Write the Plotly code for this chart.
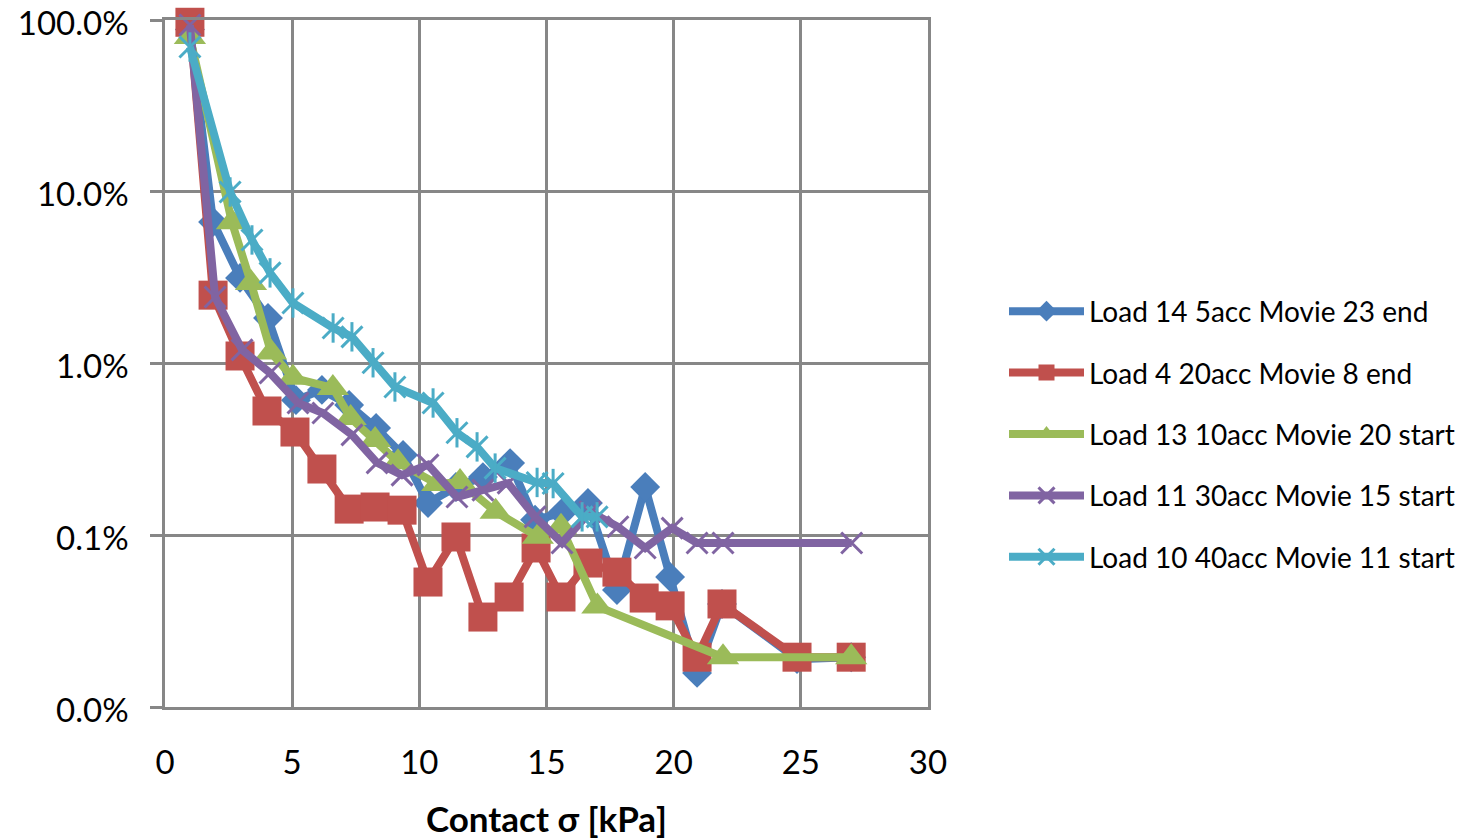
import plotly.graph_objects as go

# ---- data (x = contact stress kPa, y = fraction) ----
blue_x = [0.98, 1.89, 2.95, 4.05, 5.15, 6.17, 7.24, 8.30, 9.36, 10.34, 11.44, 12.50, 13.57, 14.55, 15.61, 16.63, 17.77, 18.88, 19.86, 20.92, 21.90, 24.85, 26.98]
blue_y = [0.88, 0.0667, 0.0315, 0.0184, 0.00612, 0.00702, 0.00573, 0.00421, 0.00293, 0.00154, 0.00191, 0.00218, 0.00263, 0.00123, 0.00135, 0.00154, 0.000480, 0.00191, 0.000571, 0.000158, 0.000398, 0.000190, 0.000195]

red_x = [0.98, 1.89, 2.95, 4.01, 5.11, 6.17, 7.24, 8.26, 9.32, 10.34, 11.44, 12.50, 13.53, 14.59, 15.57, 16.63, 17.77, 18.84, 19.86, 20.92, 21.90, 24.85, 26.98]
red_y = [0.97, 0.0250, 0.01106, 0.00529, 0.00399, 0.00243, 0.00142, 0.00146, 0.00140, 0.000534, 0.000977, 0.000334, 0.000437, 0.000843, 0.000437, 0.000689, 0.000610, 0.000431, 0.000388, 0.000195, 0.000398, 0.000195, 0.000195]

green_x = [0.98, 2.63, 3.38, 4.17, 5.03, 6.60, 7.30, 8.26, 9.16, 10.70, 11.60, 13.00, 14.66, 15.57, 17.00, 21.94, 26.98]
green_y = [0.796, 0.0665, 0.0294, 0.0116, 0.00825, 0.00721, 0.00481, 0.00358, 0.00266, 0.00199, 0.00204, 0.00137, 0.00098, 0.00112, 0.000385, 0.000195, 0.000195]

purple_x = [0.98, 1.97, 3.03, 4.13, 5.23, 6.21, 7.35, 8.34, 9.32, 10.34, 11.48, 12.50, 13.49, 14.55, 15.61, 16.71, 17.81, 18.88, 19.94, 20.92, 21.94, 27.00]
purple_y = [0.935, 0.0244, 0.0120, 0.00881, 0.00589, 0.00515, 0.00384, 0.00264, 0.00224, 0.00257, 0.00167, 0.00183, 0.00201, 0.00128, 0.000902, 0.00137, 0.00112, 0.000843, 0.00110, 0.000902, 0.000902, 0.000902]

cyan_x = [0.98, 2.56, 3.42, 4.13, 5.03, 6.61, 7.35, 8.18, 9.04, 10.54, 11.48, 12.27, 12.98, 14.63, 15.26, 16.40, 16.99]
cyan_y = [0.696, 0.0997, 0.0524, 0.0337, 0.0225, 0.0161, 0.0143, 0.0101, 0.00730, 0.00589, 0.00395, 0.00327, 0.00246, 0.00203, 0.00200, 0.00128, 0.00128]

names = ["Load 14 5acc Movie 23 end", "Load 4 20acc Movie 8 end",
         "Load 13 10acc Movie 20 start", "Load 11 30acc Movie 15 start",
         "Load 10 40acc Movie 11 start"]

BLUE, RED, GREEN, PURPLE, CYAN = "#4A7EBB", "#C0504D", "#9BBB59", "#8064A2", "#4BACC6"
FONT = "Lato"
LW = 8

fig = go.Figure()

def add(x, y, name, color, symbol, size, mlw=0, group=None, show=True, mode="lines+markers"):
    marker = dict(symbol=symbol, size=size, color=color)
    if mlw:
        marker["line"] = dict(color=color, width=mlw)
    fig.add_trace(go.Scatter(
        x=x, y=y, name=name, mode=mode,
        line=dict(color=color, width=LW),
        marker=marker, legendgroup=group or name, showlegend=show,
        cliponaxis=False,
    ))

add(blue_x, blue_y, names[0], BLUE, "diamond", 23)
add(red_x, red_y, names[1], RED, "square", 29)
add(green_x, green_y, names[2], GREEN, "triangle-up", 28)
add(purple_x, purple_y, names[3], PURPLE, "x-thin-open", 21, mlw=3)
add(cyan_x, cyan_y, names[4], CYAN, "x-thin-open", 21, mlw=3)
add(cyan_x, cyan_y, names[4], CYAN, "line-ns-open", 21, mlw=3,
    group=names[4], show=False, mode="markers")

# the page body margin is removed by the post script, so the figure sits at (0, 0)
W, H = 1466, 839
L, T = 165, 20
R = W - 928
B = H - 707
PW = W - L - R
PH = H - T - B

grid = "#878787"
fig.update_layout(
    width=W, height=H,
    margin=dict(l=L, r=R, t=T, b=B, autoexpand=False),
    paper_bgcolor="white", plot_bgcolor="white",
    font=dict(family=FONT, color="black", size=33),
    showlegend=True,
    legend=dict(
        x=(1004 - 165) / PW, xanchor="left",
        y=(707 - 434) / PH, yanchor="middle",
        font=dict(family=FONT, size=28, color="black"),
        traceorder="grouped", tracegroupgap=22,
        itemwidth=75, bgcolor="rgba(0,0,0,0)",
    ),
    xaxis=dict(
        range=[0, 30], dtick=5, tick0=0, automargin=False,
        showgrid=True, gridcolor=grid, gridwidth=2.5,
        showline=True, linecolor=grid, linewidth=2.5, mirror=True,
        zeroline=False, ticks="", ticklabelstandoff=25,
        ticklabeloverflow="allow",
        tickfont=dict(family=FONT, size=33, color="black"),
        title=dict(text="<b>Contact σ [kPa]</b>", standoff=30,
                   font=dict(family=FONT, size=35, color="black")),
    ),
    yaxis=dict(
        type="log", range=[-4, 0], dtick=1, tickformat=".1%", automargin=False,
        showgrid=True, gridcolor=grid, gridwidth=2.5,
        showline=True, linecolor=grid, linewidth=2.5, mirror=True,
        zeroline=False, ticks="outside", ticklen=12, tickwidth=2.5, tickcolor=grid,
        ticklabelstandoff=15, ticklabelshift=3, ticklabeloverflow="allow",
        tickfont=dict(family=FONT, size=33, color="black"),
    ),
)

fig.write_html("out.html",
               config={"displayModeBar": False},
               post_script="document.body.style.margin='0';document.body.style.overflow='hidden';")
